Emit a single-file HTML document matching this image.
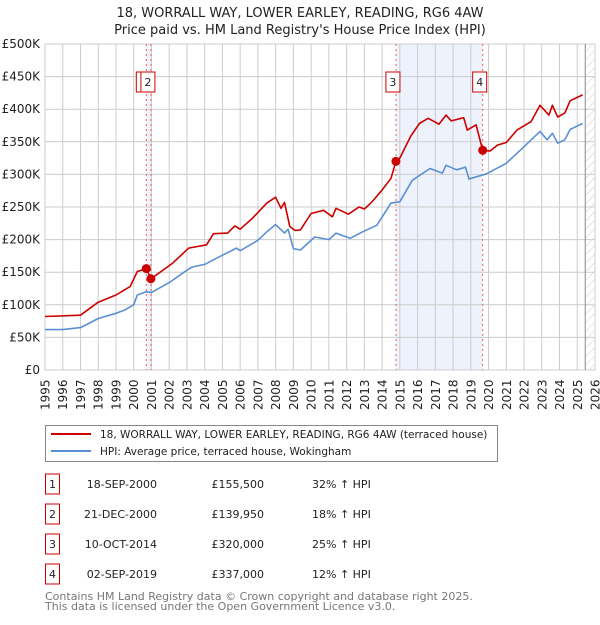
<!DOCTYPE html>
<html><head><meta charset="utf-8">
<style>
body{margin:0;background:#fff;font-family:"Liberation Sans","DejaVu Sans",sans-serif;}
svg text{font-family:"DejaVu Sans","Liberation Sans",sans-serif;}
</style></head>
<body>
<svg id="chart" width="600" height="620" viewBox="0 0 600 620" xmlns="http://www.w3.org/2000/svg">
<defs>
<pattern id="hatch" width="6" height="6" patternUnits="userSpaceOnUse" patternTransform="rotate(45)">
<line x1="0" y1="0" x2="0" y2="6" stroke="#ccc" stroke-width="1"/>
</pattern>
</defs>
<text x="300" y="17" text-anchor="middle" font-size="13" fill="#222">18, WORRALL WAY, LOWER EARLEY, READING, RG6 4AW</text>
<text x="300" y="34" text-anchor="middle" font-size="13" fill="#222">Price paid vs. HM Land Registry's House Price Index (HPI)</text>
<g id="grid"></g>
<g id="marks"></g>
<g id="legend">
<rect x="45.5" y="425.5" width="452" height="36" fill="#fff" stroke="#888"/>
<line x1="51" y1="434" x2="91" y2="434" stroke="#cc0000" stroke-width="2"/>
<text x="100" y="438" font-size="10.5" fill="#222">18, WORRALL WAY, LOWER EARLEY, READING, RG6 4AW (terraced house)</text>
<line x1="51" y1="451" x2="91" y2="451" stroke="#5b8fd4" stroke-width="2"/>
<text x="100" y="455" font-size="10.5" fill="#222">HPI: Average price, terraced house, Wokingham</text>
</g>
<g id="table"></g>
<text x="45" y="600" font-size="11" fill="#777">Contains HM Land Registry data © Crown copyright and database right 2025.</text>
<text x="45" y="610" font-size="11" fill="#777">This data is licensed under the Open Government Licence v3.0.</text>
</svg>
<script>
const hpiYears=[1995,1996,1997,1997.5,1998,1999,1999.5,2000,2000.2,2000.7,2001,2002,2003,2003.3,2004,2005,2005.8,2006,2007,2007.5,2008,2008.5,2008.7,2009,2009.4,2010.2,2011.0,2011.4,2012.2,2012.9,2013.7,2014.5,2015.0,2015.7,2016.7,2017.4,2017.6,2018.2,2018.7,2018.9,2019.9,2021.0,2021.9,2022.9,2023.3,2023.6,2023.9,2024.3,2024.6,2025.3];
const hpiValues=[62,62,65,72,79,87,92,100,115,120,119,134,153,158,162,176,187,183,199,212,223,210,216,186,184,204,200,210,202,212,222,256,258,291,309,302,314,307,311,293,301,317,340,366,353,363,348,353,369,378];
const propYears=[1995,1997,1998,1999,1999.8,2000.2,2000.71,2000.97,2002.2,2003.1,2004.1,2004.5,2005.3,2005.7,2006.0,2006.7,2007.5,2008.0,2008.3,2008.5,2008.8,2009.1,2009.4,2010.0,2010.7,2011.2,2011.4,2012.1,2012.7,2013.0,2013.4,2014.0,2014.5,2014.78,2015.0,2015.6,2016.1,2016.6,2017.2,2017.6,2017.9,2018.6,2018.8,2019.3,2019.67,2020.1,2020.5,2021.0,2021.6,2022.4,2022.9,2023.4,2023.6,2023.9,2024.3,2024.6,2025.3];
const propValues=[82,84,104,115,128,151,155.5,139.95,164,187,192,209,210,221,216,233,256,265,248,257,220,214,215,240,245,235,248,239,250,247,257,276,294,320,325,358,378,386,377,391,382,387,368,376,337,336,345,349,368,381,406,391,406,388,394,413,422];
const saleLabels=["1","2","3","4"];
const saleYears=[2000.71,2000.97,2014.78,2019.67];
const saleValues=[155.5,139.95,320,337];
const saleDates=["18-SEP-2000","21-DEC-2000","10-OCT-2014","02-SEP-2019"];
const salePrices=["£155,500","£139,950","£320,000","£337,000"];
const saleHpi=["32% ↑ HPI","18% ↑ HPI","25% ↑ HPI","12% ↑ HPI"];
const yTicks=[0,50,100,150,200,250,300,350,400,450,500];
const yTickLabels=["£0","£50K","£100K","£150K","£200K","£250K","£300K","£350K","£400K","£450K","£500K"];
const xTicks=[1995,1996,1997,1998,1999,2000,2001,2002,2003,2004,2005,2006,2007,2008,2009,2010,2011,2012,2013,2014,2015,2016,2017,2018,2019,2020,2021,2022,2023,2024,2025,2026];

const X0=45,X1=595,Y0=370,Y1=44;
const xs=y=>X0+(y-1995)/(2026-1995)*(X1-X0);
const ys=v=>Y0-v/500*(Y0-Y1);
const NS="http://www.w3.org/2000/svg";
function mk(tag,attrs,parent){const e=document.createElementNS(NS,tag);for(const k in attrs)e.setAttribute(k,attrs[k]);parent.appendChild(e);return e;}
const grid=document.getElementById('grid'),marks=document.getElementById('marks');

let r=mk('rect',{x:xs(saleYears[0]),y:Y1,width:xs(saleYears[1])-xs(saleYears[0]),height:Y0-Y1,fill:'#edf2fc'},grid);


r=mk('rect',{x:xs(saleYears[2]),y:Y1,width:xs(saleYears[3])-xs(saleYears[2]),height:Y0-Y1,fill:'#edf2fc'},grid);


r=mk('rect',{x:xs(2025.45),y:Y1,width:X1-xs(2025.45),height:Y0-Y1,fill:'url(#hatch)'},grid);



yTicks.forEach((v,i)=>{
  const l=mk('line',{x1:X0,x2:X1,y1:ys(v),y2:ys(v),stroke:'#ccc','stroke-width':1},grid);
  
  
  const t=mk('text',{x:X0-5,y:ys(v)+4,'text-anchor':'end','font-size':12,fill:'#222'},grid);
  t.textContent=yTickLabels[i];
  
  
});
xTicks.forEach(yr=>{
  const x=xs(yr);
  const l=mk('line',{x1:x,x2:x,y1:Y1,y2:Y0,stroke:'#ccc','stroke-width':1},grid);
  
  
  const t=mk('text',{x:0,y:0,transform:`translate(${x+4.5},${Y0+40}) rotate(-90)`,'font-size':12,fill:'#222'},grid);
  t.textContent=yr;
  
  
});
let vl=mk('line',{x1:xs(2025.45),x2:xs(2025.45),y1:Y1,y2:Y0,stroke:'#888','stroke-width':1},grid);



saleYears.forEach((yr,i)=>{
  const x=xs(yr);
  const l=mk('line',{x1:x,x2:x,y1:Y1,y2:Y0,stroke:'#f06060','stroke-width':1,'stroke-dasharray':'2,3'},marks);
  
  
});

function path(xa,va,color,name){
  const d=xa.map((y,i)=>(i?'L':'M')+xs(y).toFixed(1)+','+ys(va[i]).toFixed(1)).join('');
  const p=mk('path',{d:d,fill:'none',stroke:color,'stroke-width':1.6,'stroke-linejoin':'round'},marks);
  
  
}
path(hpiYears,hpiValues,'#5b8fd4','hpi-line');
path(propYears,propValues,'#cc0000','property-price-line');

saleYears.forEach((yr,i)=>{
  const c=mk('circle',{cx:xs(yr),cy:ys(saleValues[i]),r:4.5,fill:'#cc0000'},marks);
  
  
  const bx=xs(yr)-10;
  const g=mk('g',{},marks);
  
  
  mk('rect',{x:bx,y:72,width:14,height:20,fill:'#fff',stroke:'#cc0000','stroke-width':1},g);
  const t=mk('text',{x:bx+7,y:86,'text-anchor':'middle','font-size':11,fill:'#222'},g);
  t.textContent=saleLabels[i];
});

const tbl=document.getElementById('table');
saleLabels.forEach((lab,i)=>{
  const y=483+i*30;
  const g=mk('g',{},tbl);
  
  
  mk('rect',{x:45.5,y:y-9,width:14,height:20,fill:'#fff',stroke:'#cc0000','stroke-width':1},g);
  let t=mk('text',{x:52.5,y:y+5,'text-anchor':'middle','font-size':11,fill:'#222'},g);t.textContent=lab;
  t=mk('text',{x:157,y:y+5,'text-anchor':'end','font-size':11,fill:'#222'},g);t.textContent=saleDates[i];
  t=mk('text',{x:264,y:y+5,'text-anchor':'end','font-size':11,fill:'#222'},g);t.textContent=salePrices[i];
  t=mk('text',{x:312,y:y+5,'font-size':11,fill:'#222'},g);t.textContent=saleHpi[i];
});
</script>
</body></html>
